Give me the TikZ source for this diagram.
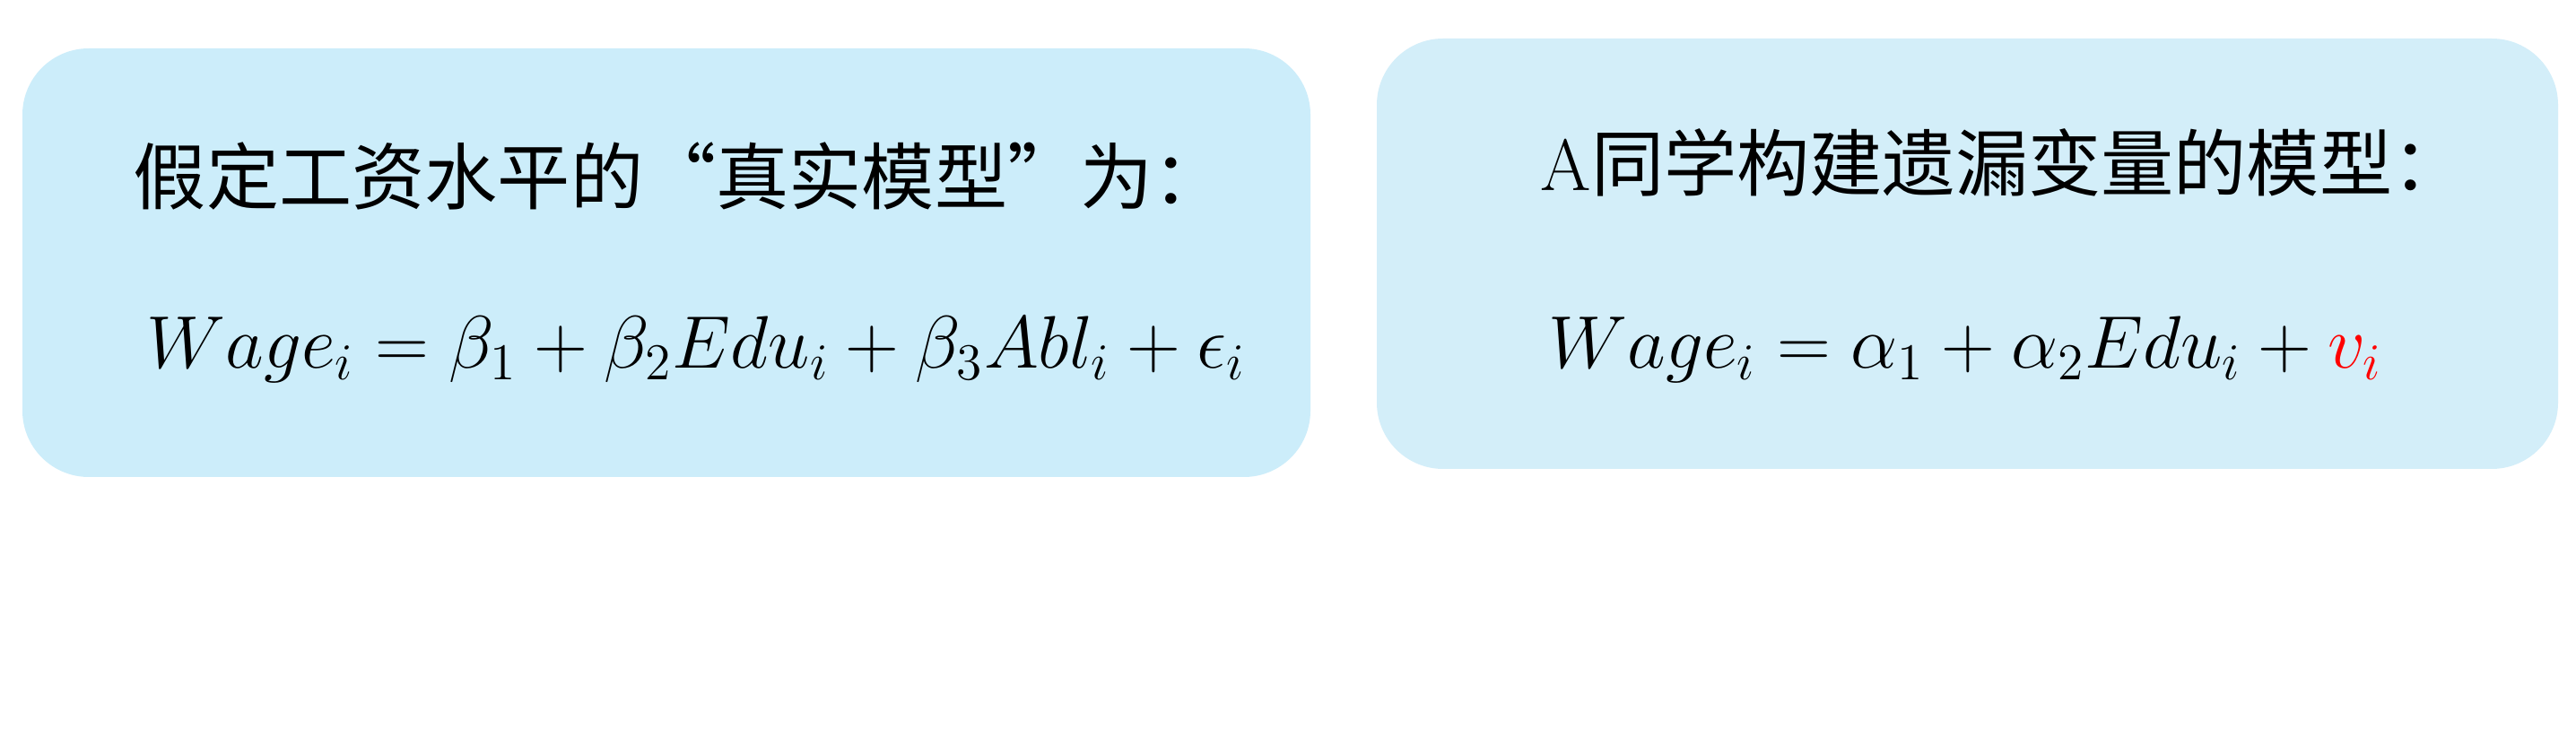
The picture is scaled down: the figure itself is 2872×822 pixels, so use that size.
\documentclass[tikz,border=0pt]{standalone}
\usepackage{fontspec}
\newfontfamily\cjk{Noto Sans CJK SC}
\definecolor{boxL}{RGB}{204,237,250}
\definecolor{boxR}{RGB}{211,238,249}
\definecolor{vred}{RGB}{255,0,0}
\begin{document}
\begin{tikzpicture}[x=0.25pt,y=-0.25pt,
  panel/.style={rounded corners=18.5pt},
  title/.style={anchor=base west,inner sep=0pt,font=\fontsize{20.3}{24}\selectfont\cjk},
  eqn/.style={anchor=base west,inner sep=0pt,font=\fontsize{21.4}{25}\selectfont}]
\useasboundingbox[fill=white] (0,0) rectangle (2872,822);
\fill[boxL,panel] (25,54) rectangle (1461,532);
\fill[boxR,panel] (1535,43) rectangle (2852,523);
\node[title] (t1) at (148,228) {假定工资水平的“真实模型”为：};
\node[title] (t2) at (1717,213) {{\rmfamily A}同学构建遗漏变量的模型：};
\node[eqn] (e1) at (163,411) {$Wage_i=\beta_1+\beta_2Edu_i+\beta_3Abl_i+\epsilon_i$};
\node[eqn] (e2) at (1726,411) {$Wage_i=\alpha_1+\alpha_2Edu_i+\textcolor{vred}{v_i}$};
\end{tikzpicture}
\end{document}
